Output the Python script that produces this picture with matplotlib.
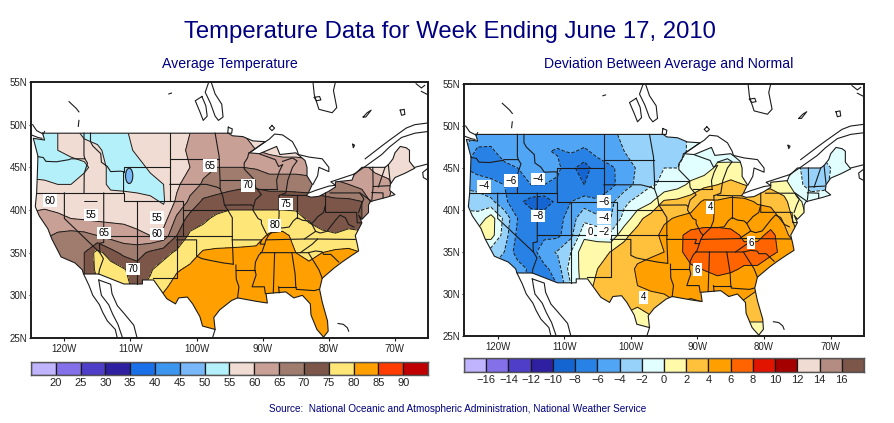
import numpy as np
import matplotlib
matplotlib.use('Agg')
import matplotlib.pyplot as plt
from matplotlib.patches import Polygon, Ellipse

plt.rcParams['font.family'] = ['Liberation Sans', 'DejaVu Sans']

# grid the two fields were read onto
lons = [-125, -123, -121, -119, -117, -115, -113, -111, -109, -107, -105, -103, -101, -99, -97,
        -95, -93, -91, -89, -87, -85, -83, -81, -79, -77, -75, -73, -71, -69, -67]
lats = [25, 27, 29, 31, 33, 35, 37, 39, 41, 43, 45, 47, 49]

# average temperature, one row per latitude, south to north
temp = [
    [82, 82, 82, 82, 82, 82, 82, 82, 82, 82, 82, 82, 82, 82, 82, 82, 82, 82, 82, 82, 82, 82, 82, 82, 82, 82, 82, 82, 82, 82],
    [82, 82, 82, 82, 82, 82, 82, 82, 82, 82, 82, 82, 82, 82, 82, 82, 82, 82, 82, 82, 82, 82, 82, 82, 82, 82, 82, 82, 82, 82],
    [82, 82, 82, 82, 82, 82, 82, 82, 82, 82, 82, 82, 82, 82, 82, 82, 82, 82, 82, 82, 82, 82, 82, 82, 82, 82, 82, 82, 82, 82],
    [66, 66, 66, 66, 70, 74, 77.5, 76, 74, 76, 79, 82, 82, 82, 82, 82, 82, 82, 82, 82, 82, 82, 82, 82, 82, 82, 82, 82, 82, 82],
    [66, 66, 66, 66, 70, 76.5, 78, 75.5, 72, 74.5, 77.5, 79.5, 81, 82, 82, 82, 82, 82, 82, 82, 82, 82, 82, 82, 82, 82, 82, 82, 82, 82],
    [66, 66, 66, 66, 70, 77, 72, 68.5, 68, 71, 73, 76, 78, 80.5, 81, 81, 81, 81, 82, 82, 80, 78, 80, 81, 81, 80, 80, 80, 80, 80],
    [64, 64, 66, 67, 66.5, 65, 63, 62, 61.5, 60, 62, 70, 76, 77, 77, 77.5, 78, 78.5, 80.5, 81, 79, 78, 76, 75.5, 77, 77, 77, 77, 77, 77],
    [62, 63, 61, 60, 59.5, 59, 59, 59, 57.5, 56, 57.5, 66, 72, 74, 76, 77, 77, 77, 77, 77, 77, 74, 73, 72, 72, 70, 62, 60, 58, 57],
    [57, 57.5, 58, 57, 55, 55, 57, 58, 58, 56, 54.5, 61, 66, 71, 72, 73, 73, 73, 73, 73, 72.5, 72, 72, 71, 71, 70, 62, 60, 58, 57],
    [56, 56, 55, 55, 57, 57, 54, 53, 52, 53, 55, 59, 63, 65.5, 67, 68, 69, 69, 68, 68, 68, 68, 66, 66, 65, 63, 62, 61, 58, 57],
    [53, 52, 52, 52, 54, 57, 54, 53, 53, 56, 58, 59, 60, 64, 65, 65, 65, 64.5, 63, 63, 63, 62, 62, 62, 62, 61, 59, 58, 57, 57],
    [52, 52, 55, 57, 57, 56, 53, 53, 56, 58, 58, 59, 60.5, 62, 63, 63, 61, 60, 59, 58, 58, 58, 58, 58, 58, 58, 58, 57, 57, 57],
    [52, 52, 55, 57, 54, 53, 52, 54, 57, 58, 58, 58, 60, 62, 63, 62, 60, 58, 57, 57, 57, 57, 57, 57, 57, 57, 57, 57, 57, 57],
]

# departure from normal, same grid
dev = [
    [2, 2, 2, 2, 2, 2, 2, 2, 2, 2, 2, 1.5, 1, 0.8, 0.8, 1, 1, 1, 1, 1, 1, 1, 1, 1, 1, 1, 1, 1, 1, 1],
    [2.5, 2.5, 2.5, 2.5, 2.5, 2.5, 2.5, 2.5, 2.5, 2.5, 2.5, 2, 1.5, 1.5, 1.7, 2.5, 2.5, 2.5, 2.5, 2.5, 2.5, 2.2, 2.2, 2.2, 2.2, 2.2, 2.2, 2.2, 2.2, 2.2],
    [2.5, 2.5, 2.5, 2.5, 2.5, 2.5, 2.5, 2.5, 2.5, 2.5, 2.5, 3, 3, 2.2, 3, 3.5, 4, 3.7, 4, 4, 4, 3.8, 3.2, 3, 3, 3, 3, 3, 3, 3],
    [-5, -5, -5, -5, -5, -7, -7, -6, -2, 1, 2.5, 3, 3.3, 4, 4.5, 4.5, 4.5, 5, 5, 5.3, 5, 5, 4.3, 3, 3, 3, 3, 3, 3, 3],
    [-4, -4, -4, -4, -5, -6.5, -6.5, -5, -1, 0.7, 2, 2.5, 3, 4.3, 5, 5, 5.2, 5.7, 6.1, 6.5, 6.3, 5.8, 5.8, 4.5, 4, 4, 4, 4, 4, 4],
    [-3, -3, -3, -4, -7, -7, -4.7, -3.8, -2, 1.5, 0.8, 2.1, 2.8, 3.3, 3.5, 4, 5.5, 6.8, 7.2, 7.3, 7, 6.8, 6.8, 6.5, 5.5, 5, 5, 5, 5, 5],
    [1, 1, 1, -3, -6.5, -7.2, -6.5, -6.5, -4.5, -0.5, -0.5, -1.5, 1.5, 2.8, 3.3, 4.5, 5.5, 6.7, 7, 7.3, 7, 5.5, 5.5, 6.5, 5, 2, 2, 2, 2, 2],
    [-1.5, -1.5, 1, -2.5, -6, -7, -7, -6.8, -5, -2.5, -3.5, -4, -1.3, 1.3, 3, 3.7, 4.2, 4.5, 4.8, 4.5, 4.3, 4.5, 5, 5, 3.5, 1, -0.5, -1, -1, -1],
    [-2.5, -2.7, -3.5, -5.5, -7.5, -8.7, -9, -7.5, -6, -5, -5.8, -4.5, -2.5, -1.3, -0.3, 2.3, 2.5, 3, 4.3, 4.2, 4.5, 4.5, 3.8, 3.5, 2.5, 0.5, -1, -1, -1, -1],
    [-4.5, -5, -5.7, -6, -6, -6, -6, -6.5, -7.5, -8, -7, -6.5, -5, -3.5, -2.2, -1.7, -0.8, 0.5, 1.5, 2, 2.5, 2, 1.5, 1.5, 1, -1.5, -2.7, -2.5, -1, -1],
    [-6, -6.7, -6.5, -6.3, -6, -4.2, -4.5, -5.5, -7.5, -9, -6.8, -6.2, -5.5, -3.7, -2.5, -2, -2, -1.5, -1.2, 0.5, 0.8, 0.5, -0.5, -1, -1, -1.7, -3, -2.5, -1.5, -1],
    [-4, -6.5, -6.2, -5.5, -5, -4.5, -5.8, -6.2, -5.8, -6.3, -5.5, -5, -4, -3, -2.5, -3, -3, -1.5, -0.2, -1, -1.5, -1, -1, -1, -1, -1, -1, -1.5, -1.5, -1.5],
    [-3, -4.5, -5.5, -5.5, -5, -4.5, -4.5, -5, -5, -5, -5, -4.5, -3.5, -2.5, -2.2, -2.8, -3, -1.5, -0.5, -0.5, -0.5, -0.5, -0.5, -0.5, -0.5, -0.5, -0.5, -0.5, -0.5, -0.5],
]

temp_levels = [20, 25, 30, 35, 40, 45, 50, 55, 60, 65, 70, 75, 80, 85, 90]
temp_colors = ['#c0b4ff', '#8470e8', '#4e3ec8', '#2e20a0', '#1a70e8', '#3c96f0', '#78b8f8', '#b4f0fa',
               '#f0dcd2', '#c8a096', '#a07c6e', '#7c5648', '#ffe678', '#ffa000', '#ff3c00', '#c00000']
dev_levels = [-16, -14, -12, -10, -8, -6, -4, -2, 0, 2, 4, 6, 8, 10, 12, 14, 16]
dev_colors = ['#c0b4ff', '#8470e8', '#4e3ec8', '#2e20a0', '#1464d2', '#2882e6', '#50a5f5', '#96d2fa', '#e1ffff',
              '#fffaaa', '#ffc03c', '#ffa000', '#ff6400', '#e11400', '#a50000', '#f0dcd2', '#b48c82', '#7c5648']

# (lon, lat, text) of the contour labels
temp_labels = [(-122.2, 41.1, '60'), (-116, 39.4, '55'), (-106, 39.1, '55'), (-106, 37.2, '60'), (-114, 37.3, '65'),
               (-98, 45.2, '65'), (-92.2, 42.9, '70'), (-86.5, 40.7, '75'), (-88.2, 38.2, '80'), (-109.6, 33.1, '70')]
dev_labels = [(-122, 42.8, '\u22124'), (-118, 43.5, '\u22126'), (-114, 43.7, '\u22124'), (-104, 41, '\u22126'),
              (-104, 39.1, '\u22124'), (-104, 37.4, '\u22122'), (-114, 39.3, '\u22128'), (-106.1, 37.4, '0'),
              (-88.1, 40.3, '4'), (-82, 36.1, '6'), (-90, 32.9, '6'), (-98.1, 29.6, '4')]

# US outline, lon/lat
us_lon = [-123.3, -95.15, -94.6, -93, -91.5, -89.6, -92, -90.5, -87.9, -87.4, -85, -84.5, -83.6, -83.3, -83.3, -82.5, -83.1,
          -83.4, -82.7, -81.5, -80, -79, -79, -76.5, -76.2, -75, -71.5, -71, -70.3, -70, -69.2, -68.3, -67.8, -67.8, -67,
          -68.5, -70, -70.7, -70.8, -70, -71.2, -73.7, -74, -74, -75, -75.5, -75, -76, -75.7, -75.5, -76.5, -78, -79.2, -81,
          -81.4, -81, -80.2, -80.1, -80.8, -81.8, -82.7, -82.8, -84, -85.3, -86.5, -88, -89.5, -89.3, -91, -93.8, -94.7,
          -96.5, -97.4, -97.2, -99.1, -99.5, -100.6, -101.4, -102.7, -103.2, -104.5, -106.5, -108.2, -108.2, -111, -114.8,
          -117.1, -117.3, -118.4, -120.5, -121.9, -122.5, -123.8, -124.4, -124.2, -124.1, -124, -124.7, -123]
us_lat = [49, 49, 48.7, 48.6, 48.1, 48, 46.7, 46.6, 47.45, 46.5, 46.7, 46.4, 45.8, 45, 44, 43, 42, 41.7, 41.5, 41.6, 42.2,
          42.7, 43.3, 43.5, 44.1, 45, 45, 45.3, 46, 46.7, 47.45, 47.3, 47, 45.7, 44.9, 44.3, 43.8, 43, 42.3, 41.8, 41.5, 41,
          40.6, 39.7, 38.9, 39.4, 38.5, 37, 36, 35.2, 34.7, 33.9, 33.2, 32, 30.7, 29.2, 27, 25.8, 25.1, 26, 27.7, 29, 30,
          29.7, 30.4, 30.3, 30.2, 29.1, 29.3, 29.7, 29.4, 28.3, 27.4, 26, 26.4, 27.5, 29, 29.8, 29.7, 29, 29.6, 31.8, 31.8,
          31.33, 31.33, 32.5, 32.5, 33, 33.8, 34.5, 36.6, 37.8, 39.3, 40.4, 42, 44, 46.3, 48.4, 48.2]

# state lines, each a run of (lon, lat)
states = [
    [(-124, 46.25), (-123.2, 46.15), (-122.8, 45.7), (-121.2, 45.65), (-119.3, 45.9), (-119, 46), (-116.9, 46)],
    [(-117.03, 49), (-117.04, 46.4), (-116.9, 46), (-116.5, 45.5), (-117, 44.3), (-117.03, 42)],
    [(-124.2, 42), (-111.05, 42), (-111.05, 41), (-109.05, 41), (-109.05, 31.33)],
    [(-120, 42), (-120, 39), (-114.63, 35), (-114.1, 34.3), (-114.7, 33), (-114.8, 32.5)],
    [(-114.05, 42), (-114.05, 36.2), (-114.7, 36.1), (-114.63, 35)],
    [(-114.05, 37), (-94.6, 37)],
    [(-116.05, 49), (-116.05, 48), (-115.7, 47.5), (-114.5, 46.6), (-114.4, 45.6), (-113.5, 45.1), (-113, 44.5), (-111.5, 44.55), (-111.05, 44.5), (-111.05, 42)],
    [(-111.05, 44.5), (-111.05, 45), (-104.05, 45)],
    [(-104.05, 49), (-104.05, 41), (-109.05, 41)],
    [(-104.05, 45.94), (-96.56, 45.94)],
    [(-104.05, 43), (-98.5, 43), (-97, 42.7), (-96.45, 42.5)],
    [(-104.05, 41), (-102.05, 41), (-102.05, 37)],
    [(-102.05, 40), (-95.3, 40)],
    [(-103, 37), (-103, 32), (-106.6, 32)],
    [(-103, 36.5), (-100, 36.5), (-100, 34.6), (-99.2, 34.3), (-98, 34.1), (-96, 33.8), (-94.5, 33.65)],
    [(-95.3, 40), (-94.6, 39.1), (-94.6, 36.5), (-94.45, 33.65)],
    [(-94.05, 33.55), (-94.05, 33), (-94, 31.9), (-93.6, 31), (-93.8, 29.7)],
    [(-94.05, 33), (-91.2, 33)],
    [(-94.6, 36.5), (-90.15, 36.5), (-90.4, 36), (-89.7, 36)],
    [(-97.2, 49), (-96.6, 46.3), (-96.56, 45.4), (-96.45, 43.5), (-96.45, 42.5), (-96, 41.5), (-95.8, 40.6), (-95.3, 40)],
    [(-96.45, 43.5), (-91.2, 43.5)],
    [(-95.77, 40.58), (-91.7, 40.6), (-91.4, 40.4)],
    [(-92.1, 46.7), (-92.3, 46.1), (-92.8, 45.5), (-92.8, 44.8), (-91.2, 43.5), (-91.1, 42.7), (-90.2, 41.8), (-91.1, 41.2), (-91.4, 40.4),
     (-91.5, 40), (-90.7, 39), (-90.2, 38.8), (-90.2, 38.4), (-89.5, 37.3), (-89.15, 37), (-89.5, 36.5), (-89.7, 36), (-90.1, 35.1),
     (-90.6, 34.7), (-91.1, 33.9), (-91.2, 33), (-91, 32.4), (-91.6, 31), (-89.75, 31), (-89.6, 30.2)],
    [(-90.65, 42.5), (-87.8, 42.5)],
    [(-87.53, 41.7), (-87.53, 39.3), (-87.6, 38.7), (-88, 37.9)],
    [(-89.15, 37), (-88, 37.9), (-87, 37.9), (-86, 38), (-85.4, 38.7), (-84.8, 39.1), (-84, 38.8), (-83, 38.7), (-82.6, 38.4), (-82, 38.9), (-81.7, 39.2), (-80.8, 39.7), (-80.5, 40.6)],
    [(-84.8, 39.1), (-84.8, 41.7)],
    [(-87, 41.75), (-84.8, 41.7), (-83.4, 41.7)],
    [(-90.4, 46.55), (-88.1, 45.9), (-87.6, 45.1), (-87, 45.3)],
    [(-87.8, 42.5), (-87.9, 43.5), (-87.5, 44.5), (-87, 45.3)],
    [(-87.53, 41.7), (-86.5, 42), (-86.2, 43.5), (-85.5, 45), (-84.8, 45.75), (-85.5, 46.1), (-87, 45.7)],
    [(-89.5, 36.5), (-83.7, 36.6), (-81.7, 36.6), (-76, 36.55)],
    [(-83.7, 36.6), (-82, 37.5), (-82.6, 38.4)],
    [(-82, 37.5), (-81.3, 37.3), (-80.3, 37.5), (-79, 38.8), (-78.3, 39.4), (-77.5, 39.1), (-77, 38.3), (-76.2, 38)],
    [(-90.3, 35), (-84.3, 35), (-83.1, 35), (-82, 35.2), (-81, 35.1), (-80.8, 34.8), (-79.7, 34.8), (-78.5, 33.9)],
    [(-81.7, 36.6), (-82.5, 36), (-84.3, 35)],
    [(-88.2, 35), (-88.4, 30.3)],
    [(-85.6, 35), (-85.1, 32.5), (-85, 31), (-84.9, 30.7), (-82.2, 30.55), (-81.5, 30.7)],
    [(-87.6, 31), (-85, 31)],
    [(-87.6, 31), (-87.5, 30.3)],
    [(-83.1, 35), (-81.5, 33), (-81, 32)],
    [(-80.5, 42), (-80.5, 39.72), (-75.8, 39.72), (-75.7, 38.5), (-75.1, 38.5)],
    [(-79.8, 42), (-75.3, 42), (-74.7, 41.3), (-75.1, 40.6), (-75.5, 39.7)],
    [(-75.3, 42), (-73.5, 41)],
    [(-73.35, 45), (-73.3, 42.7), (-73.5, 41.2)],
    [(-71.5, 45), (-72.5, 42.7)],
    [(-73.5, 42.05), (-71.8, 42), (-71.8, 41.4)],
    [(-73.3, 42.75), (-70.8, 42.85)],
    [(-71, 45.3), (-70.7, 43.1)],
]

# coast and lake lines outside the US
outside = [
    [(-117.1, 32.5), (-116.3, 31.2), (-115.7, 30), (-114.7, 28.9), (-114.2, 28), (-113.5, 27), (-112.3, 26), (-112, 25)],
    [(-114.8, 31.8), (-114.6, 30.8), (-114.4, 30), (-113.3, 28.9), (-112.7, 27.8), (-111.9, 26.6), (-111.2, 25)],
    [(-114.8, 31.8), (-113, 31.3), (-112.8, 30.2), (-112, 28.8), (-111, 27.9), (-109.5, 26.5), (-109, 25)],
    [(-97.2, 26), (-97.6, 25)],
    [(-78.6, 26.7), (-77.8, 26.6), (-77.2, 26.2), (-77, 25.8)],
    [(-82.4, 55), (-82.2, 53.5), (-81.5, 51.8), (-79.5, 51.4), (-78.8, 52), (-79.3, 54), (-79, 55)],
    [(-82.2, 53.2), (-81.4, 53.3), (-81.2, 52.9), (-81.9, 52.8), (-82.2, 53.2)],
    [(-97.8, 55), (-97.2, 53.6), (-96.2, 52.4), (-96, 50.9), (-96.7, 50.5), (-97.2, 51), (-97.9, 52.5), (-98.7, 53.8), (-98.2, 54.9)],
    [(-99.2, 53.3), (-98.6, 52.2), (-98.4, 51), (-99, 50.5), (-99.5, 51.5), (-100.2, 52.8), (-99.2, 53.3)],
    [(-119.3, 52.7), (-118.2, 51.9), (-117.8, 51.5)],
    [(-117.8, 50.5), (-117.9, 49.8)],
    [(-104.2, 53.6), (-103.8, 53.7)],
    [(-88.6, 49.9), (-88.2, 49.6), (-88.6, 49.3), (-89, 49.6), (-88.6, 49.9)],
    [(-95.2, 49.7), (-94.6, 49.5), (-94.7, 49), (-95.3, 49), (-95.2, 49.7)],
    [(-92, 46.7), (-90, 47.8), (-89, 48.3), (-88.2, 48.9), (-87, 48.8), (-85.5, 48), (-84.8, 47), (-84.6, 46.5)],
    [(-84.6, 46.5), (-83, 46.2), (-81, 46), (-80, 45), (-80, 44.5), (-81.5, 45), (-81.7, 44), (-82.4, 43)],
    [(-83, 42), (-82, 42.3), (-80, 42.8), (-79, 42.9), (-79.7, 43.3), (-77, 44), (-76.2, 44.2)],
    [(-76.2, 44.2), (-74.5, 45.1), (-72, 46.5), (-70.8, 47.4), (-69, 48.5), (-67, 49), (-65, 49.2)],
    [(-74.5, 46), (-72, 47.5), (-70.8, 48.2), (-68.3, 49.6), (-67, 50), (-65, 50.2)],
    [(-67, 45), (-66, 45.2), (-65, 45.4)],
    [(-65, 44.9), (-65.8, 44.4), (-65.7, 43.8), (-65, 43.5)],
    [(-74.8, 50.9), (-74.2, 51.4), (-73.6, 51.7), (-74.4, 50.9), (-74.8, 50.9)],
    [(-69.2, 51.7), (-68.6, 51.8), (-68.5, 51.2), (-69, 51.1), (-69.2, 51.7)],
    [(-76.4, 47.7), (-76.1, 47.6), (-76.3, 47.3), (-76.4, 47.7)],
    [(-66.8, 54.8), (-66, 54.3), (-65.5, 54.6)],
    [(-65, 53.5), (-66, 53.9)],
    [(-124.8, 50), (-124.2, 49.3), (-123.2, 48.9), (-123, 49.2)],
    [(-125, 48.8), (-124, 48.5), (-123.4, 48.4)],
]

# small closed centre too narrow for the grid (lon, lat, width, height)
temp_spot = (-110.2, 44, 1.1, 1.8)

lon_ticks = [-120, -110, -100, -90, -80, -70]
lat_ticks = [25, 30, 35, 40, 45, 50, 55]
NAVY = '#000080'
LINE = '#1c1c1c'

W, H = 895, 423
fig = plt.figure(figsize=(W / 100, H / 100), dpi=100)


def px_axes(left, top, right, bottom):
    return fig.add_axes([left / W, 1 - bottom / H, (right - left) / W, (bottom - top) / H])


def draw_map(ax, values, levels, colors, labels, neg_dashed=False):
    outline = Polygon(list(zip(us_lon, us_lat)), closed=True, transform=ax.transData, fc='none', ec='none')
    ax.add_patch(outline)
    cf = ax.contourf(lons, lats, values, levels=levels, colors=colors, extend='both')
    cf.set_clip_path(outline)
    cl = ax.contour(lons, lats, values, levels=levels, colors=LINE, linewidths=0.7)
    if not neg_dashed:
        cl.set_linestyle('solid')
    cl.set_clip_path(outline)
    for run in states + outside:
        xs, ys = zip(*run)
        ax.plot(xs, ys, color=LINE, lw=0.8, solid_joinstyle='round')
    ax.plot(us_lon + us_lon[:1], us_lat + us_lat[:1], color=LINE, lw=0.8)
    for x, y, s in labels:
        ax.text(x, y, s, fontsize=7, ha='center', va='center', color='black',
                bbox=dict(fc='white', ec='none', pad=1), zorder=5)
    ax.set_xlim(-125.05, -65)
    ax.set_ylim(25, 55)
    ax.set_xticks(lon_ticks)
    ax.set_xticklabels([f'{-v}W' for v in lon_ticks])
    ax.set_yticks(lat_ticks)
    ax.set_yticklabels([f'{v}N' for v in lat_ticks])
    ax.tick_params(labelsize=7, length=2.5, width=0.8, color=LINE, labelcolor='#222222')
    ax.tick_params(axis='y', length=1.5, pad=1)
    ax.tick_params(axis='x', pad=2)
    for s in ax.spines.values():
        s.set_linewidth(1.4)
        s.set_color(LINE)


def draw_bar(ax, levels, colors):
    xs = np.arange(len(colors))
    ax.bar(xs, [1] * len(colors), width=1, align='edge', color=colors, edgecolor='#1a1a1a', linewidth=0.9)
    ax.set_xlim(0, len(colors))
    ax.set_ylim(0, 1)
    ax.set_yticks([])
    ax.set_xticks(xs[1:])
    ax.set_xticklabels([str(v).replace('-', '\u2212') for v in levels])
    ax.tick_params(labelsize=8, length=0, pad=2, labelcolor='#222222')
    for s in ax.spines.values():
        s.set_linewidth(1.0)
        s.set_color('#555555')


ax1 = px_axes(31, 82, 428, 338)
draw_map(ax1, temp, temp_levels, temp_colors, temp_labels)
spot = Ellipse(temp_spot[:2], temp_spot[2], temp_spot[3], fc=temp_colors[6], ec=LINE, lw=0.8, zorder=3)
ax1.add_patch(spot)

ax2 = px_axes(464, 84, 864, 336)
draw_map(ax2, dev, dev_levels, dev_colors, dev_labels, neg_dashed=True)

draw_bar(px_axes(31, 362, 428, 375), temp_levels, temp_colors)
draw_bar(px_axes(464, 358, 864, 372), dev_levels, dev_colors)

fig.text(449.5 / W, 1 - 32 / H, 'Temperature Data for Week Ending June 17, 2010', fontsize=17.2, color=NAVY, ha='center', va='center')
fig.text(229.5 / W, 1 - 64 / H, 'Average Temperature', fontsize=10.2, color=NAVY, ha='center', va='center')
fig.text(669 / W, 1 - 64 / H, 'Deviation Between Average and Normal', fontsize=10.1, color=NAVY, ha='center', va='center')
fig.text(458 / W, 1 - 409 / H, 'Source:  National Oceanic and Atmospheric Administration, National Weather Service',
         fontsize=7.2, color=NAVY, ha='center', va='center')

fig.savefig('out.png', dpi=100)
